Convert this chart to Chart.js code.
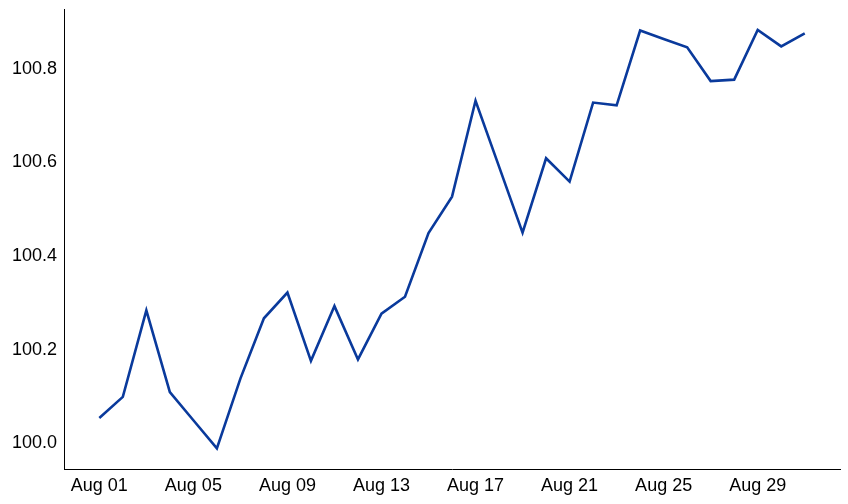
<!DOCTYPE html>
<html>
<head>
<meta charset="utf-8">
<script src="https://cdn.jsdelivr.net/npm/chart.js@4"></script>
<style>
  html, body { margin:0; padding:0; background:#fff; }
  #wrap { width:848px; height:504px; }
</style>
</head>
<body>
<div id="wrap"><canvas id="c" width="848" height="504"></canvas></div>
<script>
// days of August, one value per day
const days = Array.from({length:31}, (_, i) => i + 1);
const values = [
    100.054, 100.099, 100.284, 100.109, 100.049, 99.989, 100.138, 100.267,
    100.322, 100.176, 100.293, 100.179, 100.277, 100.313, 100.449, 100.527,
    100.732, 100.591, 100.450, 100.609, 100.559, 100.728, 100.722, 100.882,
    100.864, 100.846, 100.774, 100.777, 100.883, 100.848, 100.876
];
const xTickDays = [1, 5, 9, 13, 17, 21, 25, 29];
const yTicks = [100.0, 100.2, 100.4, 100.6, 100.8];

const dayLabel = d => 'Aug ' + String(d).padStart(2, '0');
const font = { family: '"Liberation Sans", Arial, Helvetica, sans-serif', size: 18 };

new Chart(document.getElementById('c'), {
    type: 'line',
    data: {
        datasets: [{
            data: days.map((d, i) => ({ x: d, y: values[i] })),
            borderColor: '#0a3a9c',
            borderWidth: 2.6,
            pointRadius: 0,
            tension: 0,
            fill: false
        }]
    },
    options: {
        responsive: false,
        animation: false,
        layout: { padding: { left: 5, right: 8, top: 9, bottom: 1 } },
        plugins: { legend: { display: false }, tooltip: { enabled: false } },
        scales: {
            x: {
                type: 'linear',
                min: -0.5, max: 32.5,
                afterBuildTicks: s => { s.ticks = xTickDays.map(v => ({ value: v })); },
                ticks: { callback: v => dayLabel(v), color: '#000', font, padding: 6, maxRotation: 0, autoSkip: false },
                grid: { display: false, drawTicks: false },
                border: { display: true, color: '#000', width: 1 }
            },
            y: {
                min: 99.944, max: 100.928,
                afterBuildTicks: s => { s.ticks = yTicks.map(v => ({ value: v })); },
                afterFit: s => { s.paddingTop = 0; },
                ticks: { callback: v => v.toFixed(1), color: '#000', font, padding: 7 },
                grid: { display: false, drawTicks: false },
                border: { display: true, color: '#000', width: 1 }
            }
        }
    }
});
</script>
</body>
</html>
